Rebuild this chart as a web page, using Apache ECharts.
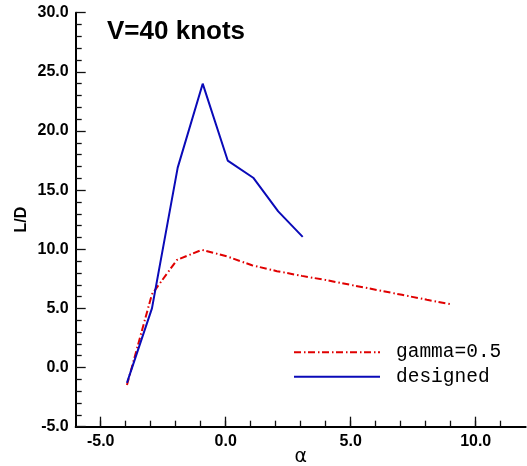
<!DOCTYPE html>
<html>
<head>
<meta charset="utf-8">
<script src="https://cdn.jsdelivr.net/npm/echarts@6/dist/echarts.min.js"></script>
<style>
html,body{margin:0;padding:0;background:#fff;}
#chart{width:527px;height:466px;}
</style>
</head>
<body>
<div id="chart"></div>
<script>
// ---- data ----
var titleText = 'V=40 knots';
var seriesNames = ['gamma=0.5', 'designed'];
var gammaAlpha = [-3.95, -2.95, -1.95, -0.95, 0.05, 1.05, 2.05, 3.05, 4.05, 5.05, 6.05, 7.05, 8.05, 9.05];
var gammaLD    = [-1.47, 6.2, 9.1, 9.95, 9.4, 8.65, 8.15, 7.75, 7.38, 6.97, 6.56, 6.15, 5.73, 5.33];
var designedAlpha = [-3.95, -2.95, -1.92, -0.92, 0.08, 1.1, 2.1, 3.08];
var designedLD    = [-1.3, 5.0, 16.9, 24.0, 17.5, 16.05, 13.2, 11.05];
var xMajorTicks = [-5, 0, 5, 10];
var xMinorTicks = [-5, -4, -3, -2, -1, 0, 1, 2, 3, 4, 5, 6, 7, 8, 9, 10, 11];
var yMin = -5, yMax = 30, yStep = 5;
var xMin = -6, xMax = 12;

function pairs(xs, ys) { return xs.map(function (x, i) { return [x, ys[i]]; }); }

var labelFont = { color: '#000', fontFamily: 'Liberation Sans', fontWeight: 'bold', fontSize: 16 };
var chart = echarts.init(document.getElementById('chart'), null, { renderer: 'canvas' });
chart.setOption({
  animation: false,
  backgroundColor: '#fff',
  title: {
    text: titleText, left: 102, top: 14,
    textStyle: { color: '#000', fontFamily: 'Liberation Sans', fontWeight: 'bold', fontSize: 26 }
  },
  legend: {
    orient: 'vertical', left: 293, top: 342.3, padding: 0,
    itemWidth: 86, itemHeight: 20, itemGap: 4.4,
    itemStyle: { opacity: 0 },
    data: seriesNames,
    textStyle: { color: '#000', fontFamily: 'Liberation Mono', fontSize: 19.5, lineHeight: 20, padding: [0, 0, 0, 11] }
  },
  grid: { left: 75.7, right: 1.3, top: 12.7, bottom: 39.3, containLabel: false, outerBoundsMode: 'none' },
  xAxis: [{
    type: 'value', min: xMin, max: xMax,
    name: 'α', nameLocation: 'middle', nameGap: 21, nameMoveOverlap: false,
    nameTextStyle: { color: '#000', fontFamily: 'DejaVu Sans', fontSize: 19 },
    axisLine: { show: true, onZero: false, lineStyle: { color: '#000', width: 2 } },
    axisTick: { show: true, inside: true, length: 10, customValues: xMajorTicks, lineStyle: { color: '#111', width: 1.3 } },
    axisLabel: Object.assign({ margin: 7, customValues: xMajorTicks, formatter: function (v) { return v.toFixed(1); } }, labelFont),
    splitLine: { show: false }
  }, {
    type: 'value', min: xMin, max: xMax, position: 'bottom',
    axisLine: { show: false, onZero: false },
    axisTick: { show: true, inside: true, length: 6, customValues: xMinorTicks, lineStyle: { color: '#111', width: 1.3 } },
    axisLabel: { show: false },
    splitLine: { show: false }
  }],
  yAxis: {
    type: 'value', min: yMin, max: yMax, interval: yStep,
    name: 'L/D', nameLocation: 'middle', nameGap: 46, nameRotate: 90, nameMoveOverlap: false,
    nameTextStyle: labelFont,
    axisLine: { show: true, onZero: false, lineStyle: { color: '#000', width: 2 } },
    axisTick: { show: true, inside: true, length: 10, lineStyle: { color: '#111', width: 1.3 } },
    minorTick: { show: true, splitNumber: 5, length: 6, lineStyle: { color: '#111', width: 1.3 } },
    axisLabel: Object.assign({ margin: 7, formatter: function (v) { return v.toFixed(1); } }, labelFont),
    splitLine: { show: false }, minorSplitLine: { show: false }
  },
  series: [{
    name: seriesNames[0], type: 'line', xAxisIndex: 0, symbol: 'none',
    data: pairs(gammaAlpha, gammaLD),
    itemStyle: { color: '#e00000' },
    lineStyle: { color: '#e00000', width: 2, type: [7, 3, 1.5, 2.5] }
  }, {
    name: seriesNames[1], type: 'line', xAxisIndex: 0, symbol: 'none',
    data: pairs(designedAlpha, designedLD),
    itemStyle: { color: '#0a0ab8' },
    lineStyle: { color: '#0a0ab8', width: 2 }
  }]
});
</script>
</body>
</html>
